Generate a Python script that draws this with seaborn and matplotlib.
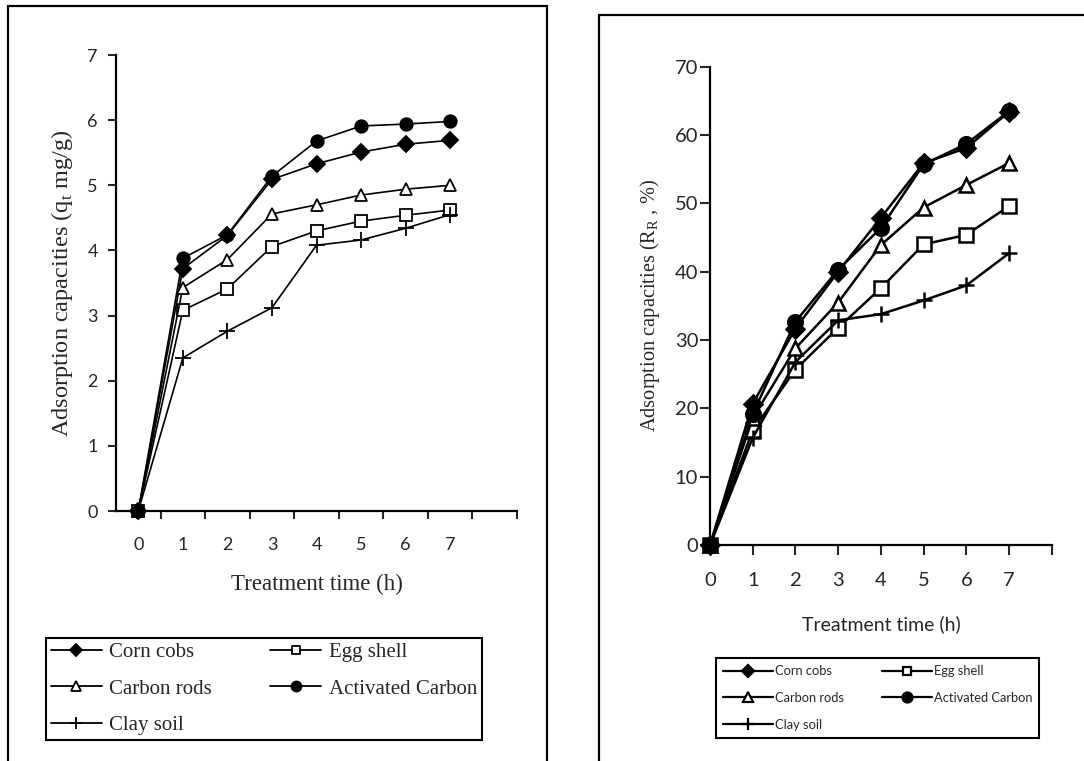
import numpy as np
import pandas as pd
import matplotlib
matplotlib.use("Agg")
import matplotlib.pyplot as plt
import seaborn as sns
from matplotlib.patches import Rectangle
from matplotlib.lines import Line2D

# ---------------- data ----------------
hours = [0, 1, 2, 3, 4, 5, 6, 7]
tick_labels = ["0", "1", "2", "3", "4", "5", "6", "7"]
series_names = ["Corn cobs", "Egg shell", "Carbon rods", "Activated Carbon", "Clay soil"]

# left panel: adsorption capacity q_t (mg/g)
qt_corn_cobs = [0, 3.72, 4.23, 5.09, 5.33, 5.51, 5.63, 5.69]
qt_egg_shell = [0, 3.08, 3.41, 4.06, 4.30, 4.45, 4.54, 4.62]
qt_carbon_rods = [0, 3.43, 3.86, 4.56, 4.70, 4.85, 4.94, 5.00]
qt_activated_carbon = [0, 3.88, 4.24, 5.14, 5.68, 5.91, 5.94, 5.98]
qt_clay_soil = [0, 2.35, 2.76, 3.12, 4.08, 4.16, 4.34, 4.55]

# right panel: removal R_R (%)
rr_corn_cobs = [0, 20.7, 31.7, 40.0, 47.9, 55.9, 58.1, 63.4]
rr_egg_shell = [0, 16.8, 25.7, 31.8, 37.6, 44.0, 45.4, 49.6]
rr_carbon_rods = [0, 18.6, 28.8, 35.5, 43.9, 49.4, 52.7, 55.9]
rr_activated_carbon = [0, 19.2, 32.7, 40.3, 46.4, 55.7, 58.7, 63.5]
rr_clay_soil = [0, 15.7, 26.8, 32.9, 33.8, 35.8, 38.0, 42.7]

qt_values = [qt_corn_cobs, qt_egg_shell, qt_carbon_rods, qt_activated_carbon, qt_clay_soil]
rr_values = [rr_corn_cobs, rr_egg_shell, rr_carbon_rods, rr_activated_carbon, rr_clay_soil]

# ---------------- styles ----------------
marker_of = {"Corn cobs": "D", "Egg shell": "s", "Carbon rods": "^",
             "Activated Carbon": "o", "Clay soil": "+"}
face_of = {"Corn cobs": "black", "Egg shell": "white", "Carbon rods": "white",
           "Activated Carbon": "black", "Clay soil": "black"}
size_left = {"Corn cobs": 8, "Egg shell": 8, "Carbon rods": 9,
             "Activated Carbon": 9, "Clay soil": 11}
size_right = {"Corn cobs": 9, "Egg shell": 9.5, "Carbon rods": 10,
              "Activated Carbon": 10.5, "Clay soil": 12}

sns.set_style("white")
SERIF = ["Liberation Serif", "DejaVu Serif"]
SANS = ["Lato", "DejaVu Sans"]
plt.rcParams["font.family"] = SANS
plt.rcParams["mathtext.fontset"] = "custom"
plt.rcParams["mathtext.rm"] = "Liberation Serif"

W, H = 1084, 761
fig = plt.figure(figsize=(W / 100, H / 100), dpi=100)
fig.patch.set_facecolor("white")

def fx(px):
    return px / W

def fy(py):
    return 1 - py / H

# panel frames
fig.patches.append(Rectangle((fx(8), fy(775)), fx(547) - fx(8), fy(6) - fy(775),
                             transform=fig.transFigure, fill=False, ec="black", lw=1.6,
                             clip_on=False))
fig.patches.append(Rectangle((fx(599), fy(775)), fx(1095) - fx(599), fy(15) - fy(775),
                             transform=fig.transFigure, fill=False, ec="black", lw=1.6,
                             clip_on=False))

# ---------------- left panel ----------------
axL = fig.add_axes([fx(116), fy(511), fx(517) - fx(116), fy(55) - fy(511)])
dfL = pd.DataFrame({"hour": np.repeat(hours, len(series_names)),
                    "series": series_names * len(hours),
                    "value": np.array(qt_values).T.ravel()})
for name in series_names:
    sub = dfL[dfL["series"] == name]
    sns.lineplot(data=sub, x="hour", y="value", ax=axL, color="black", lw=1.2,
                 marker=marker_of[name], markersize=size_left[name],
                 markerfacecolor=face_of[name], markeredgecolor="black",
                 markeredgewidth=1.3, legend=False, zorder=3, clip_on=False)
axL.set_xlim(-0.5, 8.5)
axL.set_ylim(0, 7)
axL.set_xticks(hours)
axL.set_xticklabels(tick_labels)
axL.set_xticks(np.arange(0.5, 8.6, 1.0), minor=True)
axL.set_yticks(range(0, 8))
axL.tick_params(axis="x", which="major", length=0, pad=19, labelsize=13)
axL.tick_params(axis="x", which="minor", length=6, width=1.5, direction="out", bottom=True)
axL.tick_params(axis="y", length=6, width=1.5, direction="out", left=True, pad=7, labelsize=13)
for s in ["top", "right"]:
    axL.spines[s].set_visible(False)
for s in ["left", "bottom"]:
    axL.spines[s].set_linewidth(1.6)
    axL.spines[s].set_color("black")
axL.set_xlabel("Treatment time (h)", family=SERIF, fontsize=16.5)
axL.set_ylabel(r"Adsorption capacities (q$_\mathregular{t}$ mg/g)", family=SERIF, fontsize=17.5)
axL.xaxis.label.set_va("center")
axL.yaxis.label.set_va("center")
axL.xaxis.set_label_coords(0.5, (511 - 584) / 456)
axL.yaxis.set_label_coords((62 - 116) / 401, 0.5)

# ---------------- right panel ----------------
axR = fig.add_axes([fx(710), fy(545.2), fx(1051.7) - fx(710), fy(66.7) - fy(545.2)])
dfR = pd.DataFrame({"hour": np.repeat(hours, len(series_names)),
                    "series": series_names * len(hours),
                    "value": np.array(rr_values).T.ravel()})
for name in series_names:
    sub = dfR[dfR["series"] == name]
    sns.lineplot(data=sub, x="hour", y="value", ax=axR, color="black", lw=1.8,
                 marker=marker_of[name], markersize=size_right[name],
                 markerfacecolor=face_of[name], markeredgecolor="black",
                 markeredgewidth=1.8, legend=False, zorder=3, clip_on=False)
axR.set_xlim(0, 8)
axR.set_ylim(0, 70)
axR.set_xticks(range(0, 9))
axR.set_xticklabels(tick_labels + [""])
axR.set_yticks(range(0, 71, 10))
axR.tick_params(axis="x", length=7, width=1.5, direction="out", bottom=True, pad=12, labelsize=14.5)
axR.tick_params(axis="y", length=7, width=1.5, direction="out", left=True, pad=1.5, labelsize=14.5)
for s in ["top", "right"]:
    axR.spines[s].set_visible(False)
for s in ["left", "bottom"]:
    axR.spines[s].set_linewidth(1.6)
    axR.spines[s].set_color("black")
axR.set_xlabel("Treatment time (h)", fontsize=14)
axR.set_ylabel(r"Adsorption capacities (R$_\mathregular{R}$ , %)", family=SERIF, fontsize=14.7)
axR.xaxis.label.set_va("center")
axR.yaxis.label.set_va("center")
axR.xaxis.set_label_coords((881 - 710) / 341.7, (545.2 - 624) / 478.5)
axR.yaxis.set_label_coords((650 - 710) / 341.7, 0.5)

# ---------------- legends ----------------
order = ["Corn cobs", "Carbon rods", "Clay soil", "Egg shell", "Activated Carbon"]

def handles(ms_scale, lw, mew):
    hs = []
    for name in order:
        hs.append(Line2D([0], [0], color="black", lw=lw, marker=marker_of[name],
                         markersize=size_left[name] * ms_scale,
                         markerfacecolor=face_of[name], markeredgecolor="black",
                         markeredgewidth=mew))
    return hs

legL = fig.legend(handles(0.8, 1.3, 1.3), order, ncol=2, loc="upper left",
                  bbox_to_anchor=(fx(45.7), fy(637.7)), borderaxespad=0,
                  prop={"family": SERIF, "size": 15}, frameon=True, fancybox=False,
                  edgecolor="black", framealpha=1, handlelength=2.45, handletextpad=0.35,
                  columnspacing=2.8, labelspacing=0.8, borderpad=0.25)
legL.get_frame().set_linewidth(1.5)

legR = fig.legend(handles(0.8, 1.6, 1.6), order, ncol=2, loc="upper left",
                  bbox_to_anchor=(fx(715.7), fy(658)), borderaxespad=0,
                  prop={"family": SANS, "size": 9.3}, frameon=True, fancybox=False,
                  edgecolor="black", framealpha=1, handlelength=3.9, handletextpad=0.15,
                  columnspacing=2.9, labelspacing=1.15, borderpad=0.55)
legR.get_frame().set_linewidth(1.5)

fig.savefig("out.png", dpi=100)
